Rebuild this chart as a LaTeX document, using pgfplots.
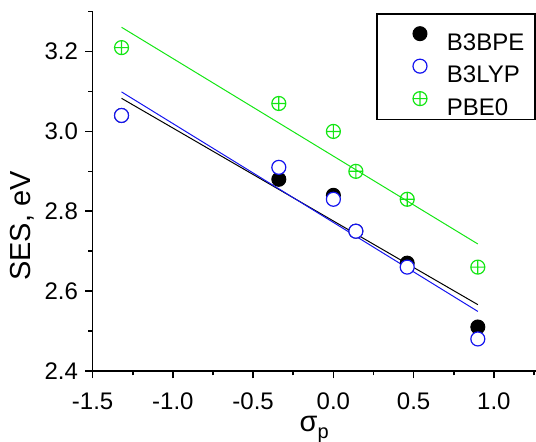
\documentclass[border=0pt]{standalone}
\usepackage{fontspec}
\setmainfont{Liberation Sans}
\usepackage{pgfplots}
\pgfplotsset{compat=1.18}
\usetikzlibrary{calc}
\definecolor{pgreen}{RGB}{20,230,20}
\definecolor{pblue}{RGB}{20,20,240}
\begin{document}
\begin{tikzpicture}
\begin{axis}[
  scale only axis, width=221.6pt, height=179.7pt,
  xmin=-1.5, xmax=1.26, ymin=2.4, ymax=3.3,
  axis x line*=bottom, axis y line*=left,
  axis line style={line width=0.8pt,-},
  xtick={-1.5,-1,-0.5,0,0.5,1},
  xticklabels={-1.5,-1.0,-0.5,0.0,0.5,1.0},
  minor xtick={-1.25,-0.75,-0.25,0.25,0.75,1.25},
  ytick={2.4,2.6,2.8,3.0,3.2},
  yticklabels={2.4,2.6,2.8,3.0,3.2},
  minor ytick={2.5,2.7,2.9,3.1,3.3},
  tick align=outside, major tick length=3.8pt, minor tick length=2.2pt,
  tick style={line width=0.8pt, black},
  ticklabel style={font=\fontsize{12}{14}\selectfont},
  xticklabel style={anchor=base, yshift=-15.5pt},
  yticklabel style={anchor=east, xshift=0pt},
  xlabel={σ\raisebox{-0.45ex}{\fontsize{10}{12}\selectfont p}},
  ylabel={SES, eV},
  xlabel style={at={(rel axis cs:0.5,-0.17)}, anchor=base, font=\fontsize{14.5}{16}\selectfont},
  ylabel style={at={(rel axis cs:-0.16,0.403)}, anchor=center, font=\fontsize{14.5}{16}\selectfont},
  legend style={at={(rel axis cs:1,1)}, anchor=north east, yshift=-0.8pt,
    draw=black, fill=white, line width=0.7pt, inner xsep=5.3pt, inner ysep=2pt,
    font=\fontsize{12}{14}\selectfont, row sep=0pt,
    nodes={inner sep=0pt, text height=8.4pt, text depth=0pt}},
  legend cell align=left,
  legend image code/.code={
    \path[draw=none] (-16.2pt,-0.2pt) rectangle (7pt,12.05pt);
    \draw[#1] plot coordinates {(0pt,4.2pt)};
  },
  /tikz/every odd column/.append style={column sep=6.5pt},
  clip=false,
]
% fitted lines
\addplot[black, line width=0.5pt, forget plot] coordinates {(-1.32,3.083) (0.90,2.566)};
\addplot[pblue, line width=0.5pt, forget plot] coordinates {(-1.32,3.099) (0.90,2.549)};
\addplot[pgreen, line width=0.5pt, forget plot] coordinates {(-1.32,3.261) (0.90,2.718)};
% data
\addplot[only marks, mark=*, mark size=3.5pt, mark options={draw=black, fill=black, line width=0.5pt}]
  coordinates {(-1.32,3.04) (-0.34,2.88) (0,2.84) (0.14,2.75) (0.46,2.67) (0.90,2.51)};
\addlegendentry{B3BPE}
\addplot[only marks, mark=*, mark size=3.5pt, mark options={draw=pblue, fill=white, line width=0.6pt}]
  coordinates {(-1.32,3.04) (-0.34,2.91) (0,2.83) (0.14,2.75) (0.46,2.66) (0.90,2.48)};
\addlegendentry{B3LYP}
\addplot[only marks, mark=oplus, mark size=3.5pt, mark options={draw=pgreen, fill=white, line width=0.6pt}]
  coordinates {(-1.32,3.21) (-0.34,3.07) (0,3.00) (0.14,2.90) (0.46,2.83) (0.90,2.66)};
\addlegendentry{PBE0}
\coordinate (bl) at (rel axis cs:0,0);
\coordinate (tr) at (rel axis cs:1,1);
\end{axis}
\pgfresetboundingbox
\path[use as bounding box] ($(bl)+(-46.35pt,-35.5pt)$) rectangle ($(tr)+(0.2pt,5.85pt)$);
\end{tikzpicture}
\end{document}
